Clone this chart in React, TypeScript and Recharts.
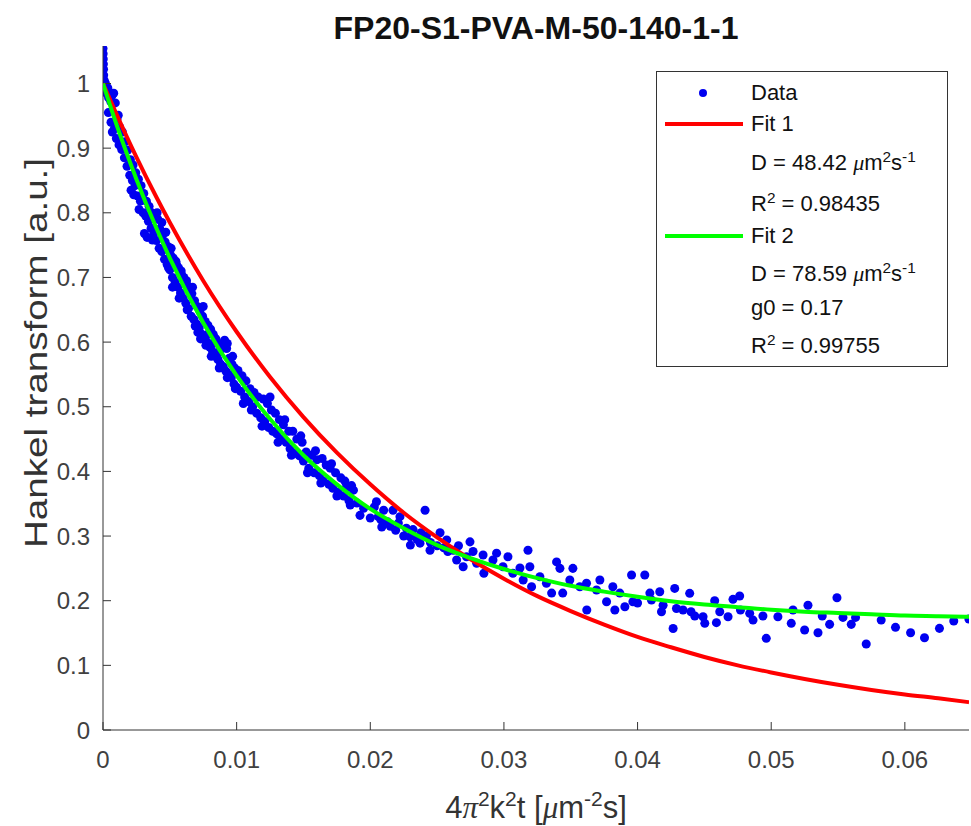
import React from 'react';
import { ComposedChart, Scatter, Line, XAxis, YAxis, Legend } from 'recharts';

const FONT = '"Liberation Sans", Arial, Helvetica, sans-serif';
const SERIF = '"Liberation Serif", "DejaVu Serif", serif';

const xTicks = [0, 0.01, 0.02, 0.03, 0.04, 0.05, 0.06];
const yTicks = [0, 0.1, 0.2, 0.3, 0.4, 0.5, 0.6, 0.7, 0.8, 0.9, 1];

// fitted curves
const fitX = [0, 0.001, 0.0025, 0.004, 0.005, 0.0075, 0.01, 0.0125, 0.015, 0.0175, 0.02, 0.0225, 0.025, 0.0275, 0.03, 0.0325, 0.035, 0.0375, 0.04, 0.0425, 0.045, 0.0475, 0.05, 0.0525, 0.055, 0.0575, 0.06, 0.0625, 0.0648];
const fit1Y = [1, 0.953, 0.886, 0.824, 0.785, 0.695, 0.616, 0.546, 0.484, 0.429, 0.38, 0.336, 0.298, 0.264, 0.234, 0.207, 0.184, 0.163, 0.144, 0.128, 0.113, 0.1, 0.089, 0.079, 0.07, 0.062, 0.055, 0.049, 0.043];
const fit2Y = [1, 0.937, 0.852, 0.776, 0.73, 0.63, 0.548, 0.481, 0.425, 0.38, 0.342, 0.312, 0.286, 0.266, 0.249, 0.235, 0.223, 0.214, 0.206, 0.199, 0.194, 0.19, 0.186, 0.183, 0.181, 0.179, 0.177, 0.176, 0.175];

// measured points [x, y]
const dataNearZero: [number, number][] = [
  [0, 1.054], [0.00001, 1.046], [0.00002, 1.038], [0.00003, 1.03], [0.00004, 1.022], [0.00005, 1.013],
  [0.00006, 1.006], [0.00008, 0.999], [0.0001, 1.003], [0.00013, 0.994], [0.00017, 1.001], [0.0002, 0.989],
  [0.00025, 0.996], [0.0003, 0.984], [0.00036, 0.993], [0.00042, 0.978], [0.0004, 0.955], [0.0005, 0.986],
  [0.00058, 0.972], [0.0006, 0.94], [0.00066, 0.981], [0.0007, 0.925], [0.0008, 0.985], [0.00085, 0.93],
  [0.00092, 0.97], [0.00114, 0.951],
];

const dataEarly: [number, number][] = [
  [0.001, 0.915], [0.00105, 0.945], [0.0012, 0.905], [0.00125, 0.932], [0.0014, 0.898], [0.00145, 0.925],
  [0.0016, 0.885], [0.00165, 0.91], [0.0018, 0.872], [0.00185, 0.897], [0.002, 0.858], [0.00205, 0.882],
  [0.0021, 0.835], [0.0022, 0.85], [0.00225, 0.874], [0.0023, 0.828], [0.0024, 0.842], [0.00245, 0.862],
  [0.0026, 0.826], [0.00265, 0.852], [0.0027, 0.805], [0.0028, 0.818], [0.00285, 0.842], [0.003, 0.8],
  [0.00305, 0.83], [0.0031, 0.768], [0.0032, 0.795], [0.00325, 0.818], [0.0033, 0.762], [0.0034, 0.787],
  [0.00345, 0.81], [0.0036, 0.776], [0.00365, 0.8], [0.0037, 0.758], [0.0038, 0.768], [0.00385, 0.795],
  [0.004, 0.757], [0.00405, 0.8], [0.0041, 0.79], [0.0042, 0.745], [0.00425, 0.775], [0.0044, 0.74],
  [0.0044, 0.785], [0.00445, 0.765], [0.0046, 0.728], [0.00465, 0.755], [0.0047, 0.77], [0.0048, 0.72],
  [0.00485, 0.748], [0.0049, 0.715], [0.005, 0.712], [0.00505, 0.735], [0.0051, 0.745], [0.0052, 0.7],
  [0.0052, 0.685], [0.00525, 0.73], [0.0054, 0.693], [0.00545, 0.725], [0.0055, 0.72], [0.0056, 0.685],
  [0.00565, 0.715], [0.0057, 0.668], [0.0058, 0.676], [0.00585, 0.71], [0.0059, 0.703], [0.006, 0.668],
  [0.00605, 0.7], [0.0062, 0.66], [0.00625, 0.695], [0.0063, 0.688], [0.0063, 0.65], [0.0064, 0.652],
  [0.00645, 0.682], [0.0066, 0.64], [0.00665, 0.675], [0.0067, 0.685], [0.0068, 0.635], [0.00685, 0.664],
  [0.0069, 0.625], [0.007, 0.628], [0.00705, 0.655], [0.0071, 0.615], [0.0072, 0.622], [0.00725, 0.648],
  [0.0073, 0.605], [0.0074, 0.612], [0.00745, 0.64], [0.0075, 0.655], [0.0076, 0.605], [0.00765, 0.632],
  [0.0077, 0.595], [0.0078, 0.6], [0.00785, 0.626], [0.0079, 0.613], [0.008, 0.592], [0.00805, 0.62],
  [0.0081, 0.578], [0.0082, 0.585], [0.00825, 0.612], [0.0083, 0.598], [0.0084, 0.578], [0.00845, 0.605],
  [0.0086, 0.573], [0.00865, 0.598], [0.0087, 0.585], [0.0087, 0.56], [0.0088, 0.566], [0.00885, 0.59],
  [0.009, 0.562], [0.00905, 0.595], [0.0091, 0.603], [0.0092, 0.555], [0.00925, 0.59], [0.0093, 0.598],
  [0.0093, 0.545], [0.0094, 0.55], [0.00945, 0.575], [0.0096, 0.545], [0.00965, 0.566], [0.0097, 0.578],
  [0.0098, 0.535], [0.00985, 0.56], [0.0099, 0.528],
];

const dataMid: [number, number][] = [
  [0.01, 0.53], [0.0101, 0.556], [0.0103, 0.524], [0.0104, 0.548], [0.0105, 0.505], [0.0106, 0.515],
  [0.0107, 0.54], [0.0109, 0.508], [0.011, 0.528], [0.0111, 0.495], [0.0112, 0.5], [0.0113, 0.522],
  [0.0115, 0.49], [0.0116, 0.515], [0.0118, 0.483], [0.0119, 0.47], [0.012, 0.512], [0.0121, 0.477],
  [0.0123, 0.505], [0.0124, 0.468], [0.0125, 0.515], [0.0126, 0.495], [0.0127, 0.462], [0.0129, 0.49],
  [0.013, 0.458], [0.0131, 0.445], [0.0132, 0.48], [0.0134, 0.45], [0.0135, 0.472], [0.0136, 0.48],
  [0.0137, 0.445], [0.0139, 0.462], [0.014, 0.435], [0.0141, 0.425], [0.0142, 0.462], [0.0144, 0.428],
  [0.0145, 0.45], [0.0147, 0.424], [0.0148, 0.455], [0.0149, 0.445], [0.015, 0.416], [0.0152, 0.43],
  [0.0153, 0.398], [0.0154, 0.405], [0.0156, 0.425], [0.0158, 0.398], [0.0159, 0.432], [0.016, 0.418],
  [0.0162, 0.393], [0.0163, 0.382], [0.0164, 0.42], [0.0165, 0.385], [0.0167, 0.41], [0.0169, 0.38],
  [0.017, 0.405], [0.0171, 0.412], [0.0172, 0.374], [0.0174, 0.398], [0.0175, 0.362], [0.0176, 0.368],
  [0.0178, 0.39], [0.018, 0.362], [0.0181, 0.385], [0.0182, 0.375], [0.0184, 0.355], [0.0185, 0.348],
  [0.0186, 0.378],
];

const dataMidLate: [number, number][] = [
  [0.01874, 0.371], [0.019, 0.351], [0.01923, 0.332], [0.0195, 0.343], [0.02, 0.328], [0.0203, 0.345],
  [0.02046, 0.353], [0.0206, 0.33], [0.0208, 0.325], [0.02086, 0.314], [0.021, 0.34], [0.0213, 0.322],
  [0.0215, 0.315], [0.0217, 0.34], [0.0219, 0.309], [0.0221, 0.32], [0.02222, 0.33], [0.0225, 0.3],
  [0.0227, 0.312], [0.02297, 0.299], [0.023, 0.286], [0.0232, 0.31], [0.0235, 0.295], [0.02372, 0.289],
  [0.0238, 0.305], [0.0241, 0.34], [0.0242, 0.3], [0.02447, 0.278], [0.0245, 0.29], [0.025, 0.285],
  [0.02522, 0.305], [0.0255, 0.282], [0.02572, 0.294], [0.0258, 0.276], [0.0262, 0.278], [0.02646, 0.263],
  [0.0266, 0.285], [0.02695, 0.2525], [0.0272, 0.268], [0.02746, 0.291], [0.02769, 0.276], [0.02796, 0.258],
  [0.02844, 0.2706], [0.0285, 0.2425], [0.02918, 0.263], [0.02945, 0.2735], [0.02993, 0.2525], [0.0303, 0.268],
  [0.03067, 0.2425], [0.0312, 0.2505], [0.03144, 0.232], [0.0318, 0.278], [0.03194, 0.2525], [0.03207, 0.2216],
  [0.03269, 0.237], [0.03318, 0.227], [0.03357, 0.2118], [0.03394, 0.26], [0.03419, 0.25], [0.0344, 0.2118],
  [0.03493, 0.232], [0.03516, 0.25], [0.03568, 0.2216], [0.03618, 0.227], [0.0362, 0.1856], [0.03693, 0.2165],
  [0.03718, 0.232], [0.03768, 0.1984], [0.03815, 0.2216], [0.0383, 0.1856], [0.03867, 0.2118], [0.03905, 0.1907],
  [0.03955, 0.2397], [0.03965, 0.1984], [0.04, 0.1964], [0.04054, 0.2397], [0.04092, 0.2118], [0.04104, 0.201],
  [0.04166, 0.2139], [0.04179, 0.183],
];

const dataTail: [number, number][] = [
  [0.04191, 0.193], [0.04266, 0.157], [0.04278, 0.219], [0.04291, 0.188], [0.0434, 0.1856], [0.0439, 0.2114],
  [0.044, 0.183], [0.04428, 0.1763], [0.0449, 0.1752], [0.04503, 0.165], [0.04577, 0.2], [0.0459, 0.166],
  [0.04615, 0.183], [0.04677, 0.1752], [0.04714, 0.2021], [0.04764, 0.2072], [0.0477, 0.1856], [0.04839, 0.1804],
  [0.04864, 0.17], [0.04938, 0.1763], [0.04963, 0.1418], [0.0505, 0.1752], [0.0515, 0.165], [0.05163, 0.1856],
  [0.0525, 0.1546], [0.05275, 0.193], [0.0535, 0.1505], [0.05382, 0.1763], [0.05437, 0.1634], [0.05492, 0.2046],
  [0.05537, 0.1742], [0.05599, 0.1634], [0.05631, 0.1742], [0.05711, 0.133], [0.05823, 0.17], [0.0593, 0.1588],
  [0.06043, 0.1505], [0.06147, 0.1427], [0.06259, 0.1572], [0.06366, 0.1686], [0.06479, 0.1716],
];

const points = [...dataNearZero, ...dataEarly, ...dataMid, ...dataMidLate, ...dataTail].map(([x, y]) => ({ x, y }));
const fit1 = fitX.map((x, i) => ({ x, y: fit1Y[i] }));
const fit2 = fitX.map((x, i) => ({ x, y: fit2Y[i] }));

const tickStyle = { fill: '#404040', fontSize: 24, fontFamily: FONT };

const XTitle = ({ viewBox }: any) => {
  const cx = viewBox.x + viewBox.width / 2;
  const y = viewBox.y + 88;
  return (
    <text x={cx} y={y} textAnchor="middle" fill="#333" fontSize={31} fontFamily={FONT}>
      4<tspan fontFamily={SERIF} fontStyle="italic">π</tspan>
      <tspan dy={-12} fontSize={21}>2</tspan>
      <tspan dy={12}>k</tspan>
      <tspan dy={-12} fontSize={21}>2</tspan>
      <tspan dy={12}>t [</tspan>
      <tspan fontFamily={SERIF} fontStyle="italic">μ</tspan>
      <tspan>m</tspan>
      <tspan dy={-12} fontSize={21}>-2</tspan>
      <tspan dy={12}>s]</tspan>
    </text>
  );
};

const YTitle = ({ viewBox }: any) => {
  const cy = viewBox.y + viewBox.height / 2 - 35;
  const x = 47;
  return (
    <text x={x} y={cy} transform={`rotate(-90 ${x} ${cy})`} textAnchor="middle" fill="#333"
      fontSize={31} fontFamily={FONT} textLength={390} lengthAdjust="spacingAndGlyphs">
      Hankel transform [a.u.]
    </text>
  );
};

const Sup = ({ children }: any) => (
  <span style={{ fontSize: '0.7em', position: 'relative', top: '-0.5em' }}>{children}</span>
);
const Mu = () => <span style={{ fontFamily: SERIF, fontStyle: 'italic' }}>μ</span>;

const Row = ({ cy, children }: any) => (
  <div style={{ position: 'absolute', left: 94, top: cy, transform: 'translateY(-50%)', lineHeight: '22px', whiteSpace: 'nowrap' }}>
    {children}
  </div>
);

const Swatch = ({ cy, color }: any) => (
  <div style={{ position: 'absolute', left: 8, top: cy - 2, width: 78, height: 4, background: color }} />
);

const LegendBox = () => (
  <div style={{ position: 'relative', width: 292, height: 296, boxSizing: 'border-box', border: '1px solid #333',
    background: '#fff', fontFamily: FONT, fontSize: 22, color: '#111' }}>
    <div style={{ position: 'absolute', left: 42, top: 17, width: 8, height: 8, borderRadius: '50%', background: '#0000f0' }} />
    <Row cy={21}>Data</Row>
    <Swatch cy={52} color="#ff0000" />
    <Row cy={52}>Fit 1</Row>
    <Row cy={92}>D = 48.42 <Mu />m<Sup>2</Sup>s<Sup>-1</Sup></Row>
    <Row cy={133}>R<Sup>2</Sup> = 0.98435</Row>
    <Swatch cy={164} color="#00ff00" />
    <Row cy={164}>Fit 2</Row>
    <Row cy={203}>D = 78.59 <Mu />m<Sup>2</Sup>s<Sup>-1</Sup></Row>
    <Row cy={236}>g0 = 0.17</Row>
    <Row cy={275}>R<Sup>2</Sup> = 0.99755</Row>
  </div>
);

export default function App() {
  return (
    <div style={{ position: 'absolute', left: 0, top: 0, width: 971, height: 826, background: '#fff' }}>
      <ComposedChart width={971} height={826} margin={{ top: 46, right: 2, bottom: 36, left: 0 }}>
        <XAxis type="number" dataKey="x" domain={[0, 0.0648]} ticks={xTicks} interval={0} allowDataOverflow
          height={60} tickSize={-8} tickMargin={29} tick={tickStyle} tickFormatter={(v) => String(v)}
          stroke="#333" label={<XTitle />} />
        <YAxis type="number" dataKey="y" domain={[0, 1.058]} ticks={yTicks} interval={0} allowDataOverflow
          width={103} tickSize={-8} tickMargin={21} tick={tickStyle} tickFormatter={(v) => String(v)}
          stroke="#333" label={<YTitle />} />
        <Legend layout="vertical" verticalAlign="middle" align="center" content={() => <LegendBox />}
          wrapperStyle={{ left: 656, top: 71, width: 292, height: 296 }} />
        <Scatter name="Data" data={points} dataKey="y" fill="#0000f0" isAnimationActive={false} zIndex={400} />
        <Line name="Fit 1" data={fit1} dataKey="y" type="monotone" stroke="#ff0000" strokeWidth={4} dot={false} activeDot={false} isAnimationActive={false} zIndex={700} />
        <Line name="Fit 2" data={fit2} dataKey="y" type="monotone" stroke="#00ff00" strokeWidth={4} dot={false} activeDot={false} isAnimationActive={false} zIndex={710} />
      </ComposedChart>
      <svg width={971} height={60} style={{ position: 'absolute', left: 0, top: 0, pointerEvents: 'none' }}>
        <text x={536} y={39} textAnchor="middle" fontFamily={FONT} fontSize={32} fontWeight="bold" fill="#111">
          FP20-S1-PVA-M-50-140-1-1
        </text>
      </svg>
    </div>
  );
}
